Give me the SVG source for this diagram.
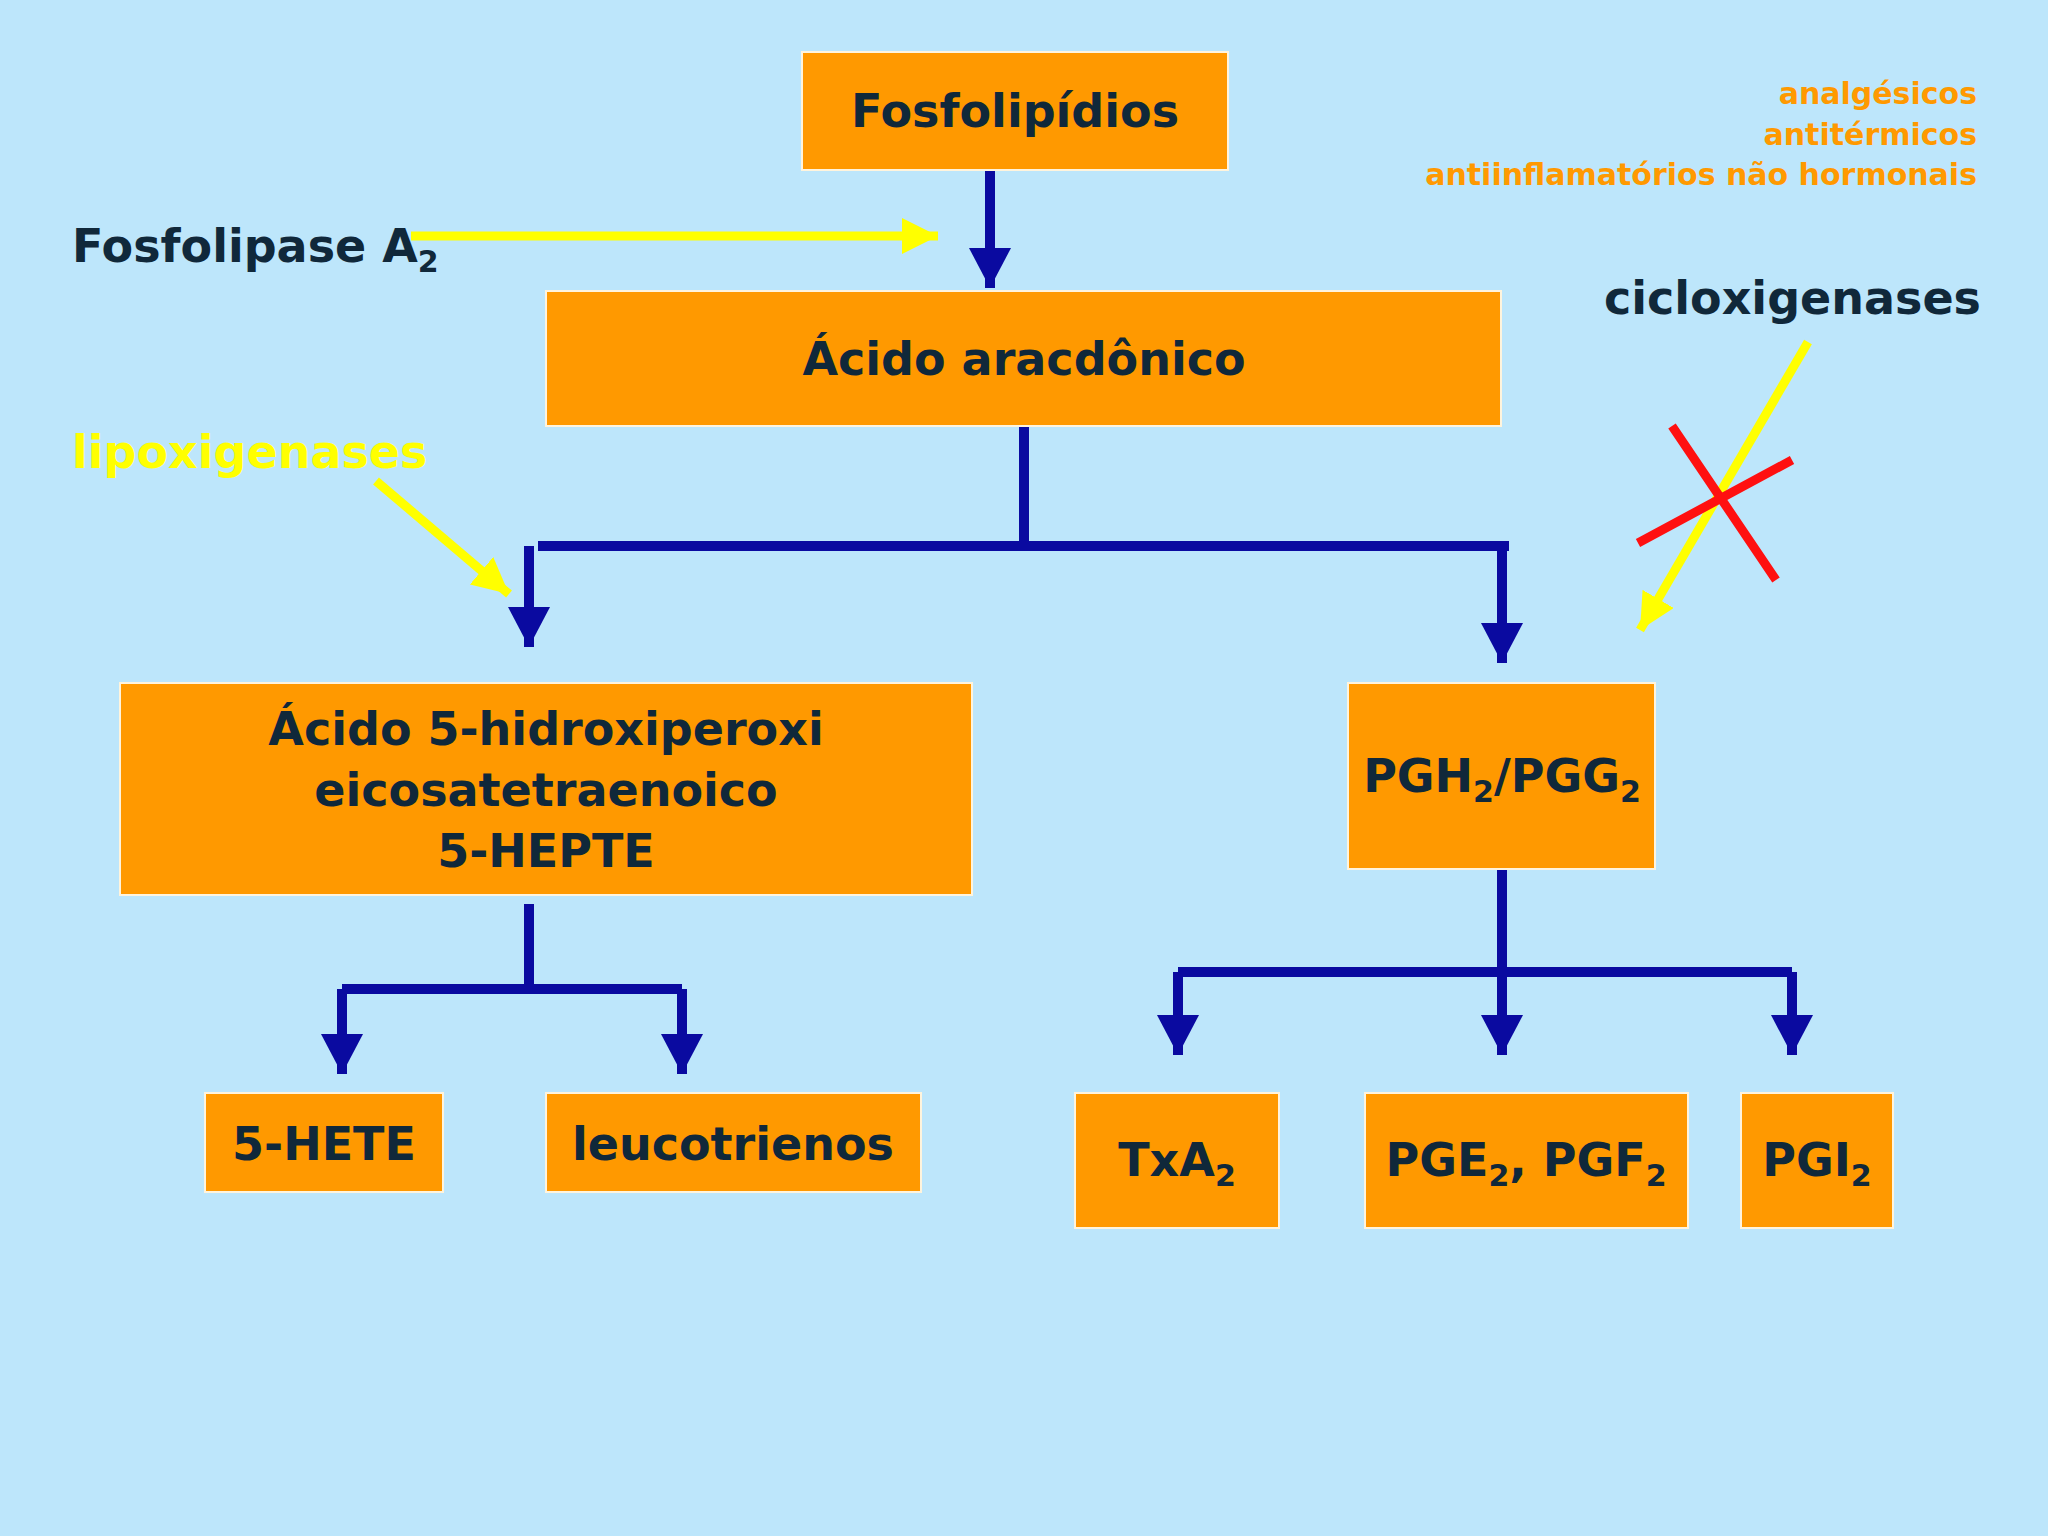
<svg xmlns="http://www.w3.org/2000/svg" width="2048" height="1536" viewBox="0 0 2048 1536">
<style>
.b{fill:#ff9900;stroke:#fff4dd;stroke-width:2}
.t{font-family:"DejaVu Sans",sans-serif;font-weight:bold;fill:#10283a;font-size:46px;text-anchor:middle}
.c{stroke:#0a0aa0;stroke-width:10;fill:none}
.y{stroke:#ffff00;stroke-width:9;fill:none}
.o{font-family:"DejaVu Sans",sans-serif;font-weight:bold;fill:#ff9900;font-size:30px;text-anchor:end}
</style>
<defs>
<marker id="ab" markerUnits="userSpaceOnUse" markerWidth="44" markerHeight="42" refX="40" refY="21" orient="auto"><path d="M0,0 L40,21 L0,42 Z" fill="#0a0aa0"/></marker>
<marker id="ay" markerUnits="userSpaceOnUse" markerWidth="40" markerHeight="36" refX="36" refY="18" orient="auto"><path d="M0,0 L36,18 L0,36 Z" fill="#ffff00"/></marker>
</defs>
<rect width="2048" height="1536" fill="#bde6fb"/>
<g id="connectors">
<path class="c" d="M990,170 V288" marker-end="url(#ab)"/>
<path class="c" d="M1024,426 V546 M538,546 H1509"/>
<path class="c" d="M529,546 V647" marker-end="url(#ab)"/>
<path class="c" d="M1502,546 V663" marker-end="url(#ab)"/>
<path class="c" d="M529,904 V989 M342,989 H682"/>
<path class="c" d="M342,989 V1074" marker-end="url(#ab)"/>
<path class="c" d="M682,989 V1074" marker-end="url(#ab)"/>
<path class="c" d="M1502,869 V972 M1178,972 H1792"/>
<path class="c" d="M1178,972 V1055" marker-end="url(#ab)"/>
<path class="c" d="M1502,972 V1055" marker-end="url(#ab)"/>
<path class="c" d="M1792,972 V1055" marker-end="url(#ab)"/>
<path class="y" d="M411,236 H938" marker-end="url(#ay)"/>
<path class="y" d="M376,481 L509,594" marker-end="url(#ay)"/>
<path class="y" d="M1808,342 L1640,630" marker-end="url(#ay)"/>
<path d="M1672,426 L1776,580 M1638,543 L1792,460" stroke="#ff1010" stroke-width="9"/>
</g>
<g id="fosfolipidios"><rect class="b" x="802" y="52" width="426" height="118"/><text class="t" x="1015" y="127">Fosfolipídios</text></g>
<g id="aracdonico"><rect class="b" x="546" y="291" width="955" height="135"/><text class="t" x="1024" y="375">Ácido aracdônico</text></g>
<g id="hepte"><rect class="b" x="120" y="683" width="852" height="212"/><text class="t" x="546" y="745">Ácido 5-hidroxiperoxi</text><text class="t" x="546" y="806">eicosatetraenoico</text><text class="t" x="546" y="867">5-HEPTE</text></g>
<g id="pgh"><rect class="b" x="1348" y="683" width="307" height="186"/><text class="t" x="1502" y="792">PGH<tspan font-size="30" dy="10">2</tspan><tspan dy="-10">/PGG</tspan><tspan font-size="30" dy="10">2</tspan></text></g>
<g id="hete"><rect class="b" x="205" y="1093" width="238" height="99"/><text class="t" x="324" y="1160">5-HETE</text></g>
<g id="leuco"><rect class="b" x="546" y="1093" width="375" height="99"/><text class="t" x="733" y="1160">leucotrienos</text></g>
<g id="txa"><rect class="b" x="1075" y="1093" width="204" height="135"/><text class="t" x="1177" y="1176">TxA<tspan font-size="30" dy="10">2</tspan></text></g>
<g id="pge"><rect class="b" x="1365" y="1093" width="323" height="135"/><text class="t" x="1526" y="1176">PGE<tspan font-size="30" dy="10">2</tspan><tspan dy="-10">, PGF</tspan><tspan font-size="30" dy="10">2</tspan></text></g>
<g id="pgi"><rect class="b" x="1741" y="1093" width="152" height="135"/><text class="t" x="1817" y="1176">PGI<tspan font-size="30" dy="10">2</tspan></text></g>
<g id="labels">
<text class="t" x="72" y="262" text-anchor="start" style="text-anchor:start">Fosfolipase A<tspan font-size="30" dy="10">2</tspan></text>
<text class="t" x="1981" y="314" style="text-anchor:end">cicloxigenases</text>
<text class="t" x="72" y="468" style="text-anchor:start;fill:#ffff00">lipoxigenases</text>
<text class="o" x="1977" y="104">analgésicos</text>
<text class="o" x="1977" y="145">antitérmicos</text>
<text class="o" x="1977" y="185">antiinflamatórios não hormonais</text>
</g>
</svg>
